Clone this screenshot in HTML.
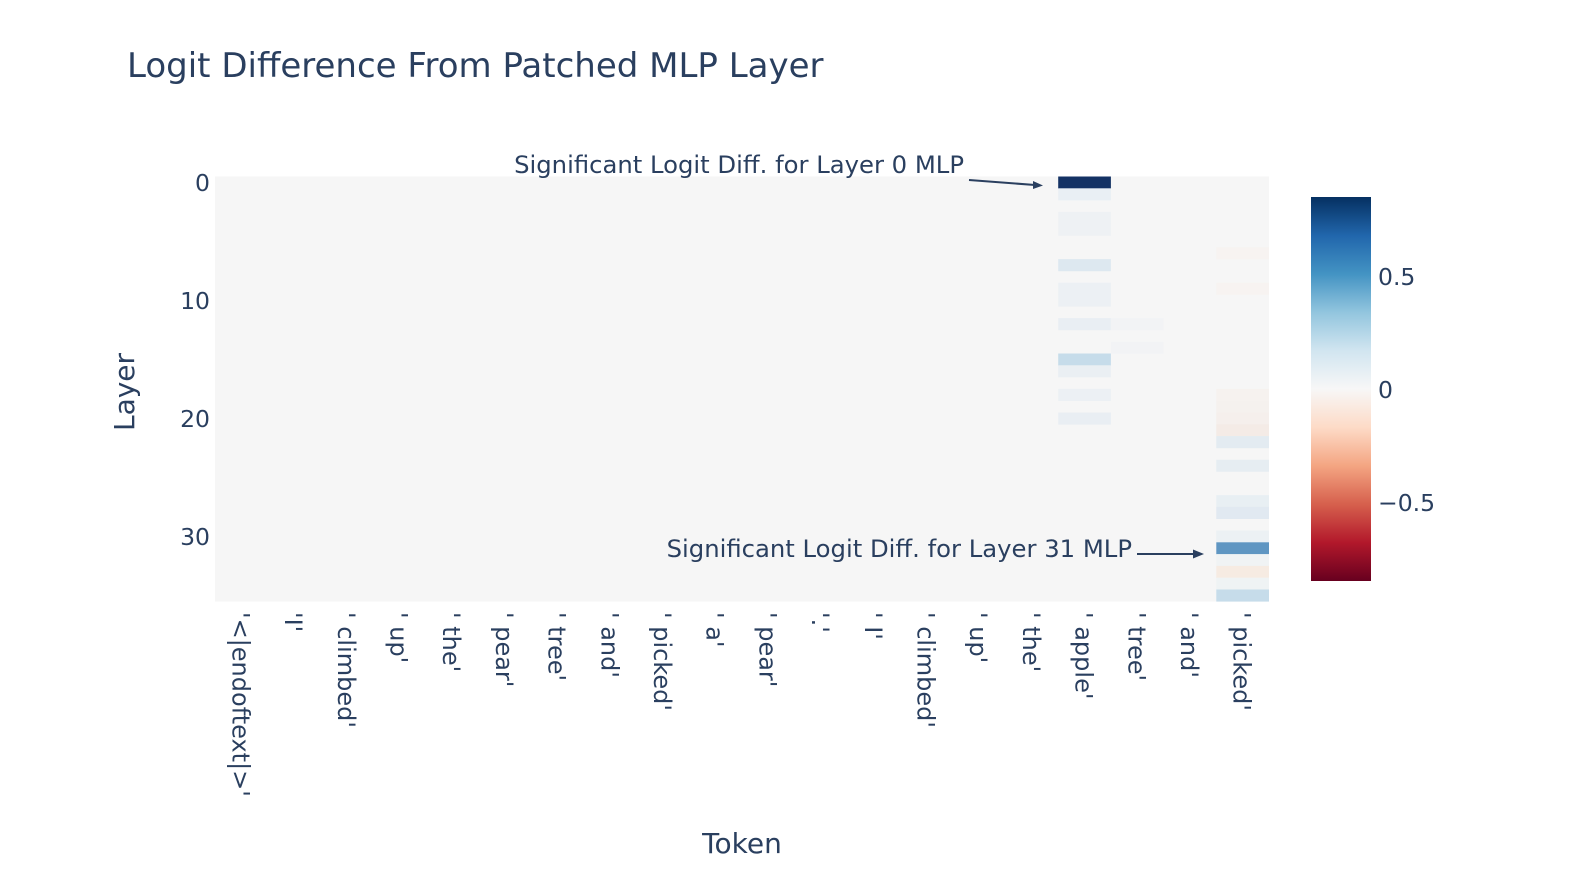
<!DOCTYPE html>
<html><head><meta charset="utf-8"><style>
html,body{margin:0;padding:0;background:#fff;}
svg{display:block;}
text{font-family:"DejaVu Sans","Liberation Sans",sans-serif;fill:#2a3f5f;}
</style></head><body>
<svg width="1588" height="896" viewBox="0 0 1588 896" xmlns="http://www.w3.org/2000/svg">
<defs>
<linearGradient id="cb" x1="0" y1="0" x2="0" y2="1">
<stop offset="0" stop-color="#053061"/><stop offset="0.1" stop-color="#2166ac"/><stop offset="0.2" stop-color="#4393c3"/><stop offset="0.3" stop-color="#92c5de"/><stop offset="0.4" stop-color="#d1e5f0"/><stop offset="0.5" stop-color="#f7f7f7"/><stop offset="0.6" stop-color="#fddbc7"/><stop offset="0.7" stop-color="#f4a582"/><stop offset="0.8" stop-color="#d6604d"/><stop offset="0.9" stop-color="#b2182b"/><stop offset="1" stop-color="#67001f"/>
</linearGradient>
</defs>
<text x="127" y="77" font-size="34">Logit Difference From Patched MLP Layer</text>
<rect x="215" y="176.5" width="1054" height="425" fill="#f6f6f6"/>
<g id="cells"></g>
<g font-size="23.5" text-anchor="end">
<text x="210" y="191">0</text><text x="210" y="309">10</text><text x="210" y="427">20</text><text x="210" y="545">30</text>
</g>
<text transform="translate(134,392) rotate(-90)" font-size="28" text-anchor="middle">Layer</text>
<text x="742" y="853" font-size="28" text-anchor="middle">Token</text>
<g id="xt" font-size="24"></g>
<text x="964" y="173" font-size="24.3" text-anchor="end">Significant Logit Diff. for Layer 0 MLP</text>
<line x1="969" y1="180" x2="1035" y2="185" stroke="#2a3f5f" stroke-width="2"/>
<polygon points="1043,185.5 1033,181 1033,189" fill="#2a3f5f"/>
<text x="1132" y="557" font-size="24.3" text-anchor="end">Significant Logit Diff. for Layer 31 MLP</text>
<line x1="1137" y1="554" x2="1195" y2="554" stroke="#2a3f5f" stroke-width="2"/>
<polygon points="1204,554 1193,549.5 1193,558.5" fill="#2a3f5f"/>
<rect x="1311" y="197" width="60" height="384" fill="url(#cb)"/>
<g font-size="23.5">
<text x="1378" y="285">0.5</text><text x="1378" y="398">0</text><text x="1378" y="511">−0.5</text>
</g>
</svg>
<script>
var top0=176.5,h=11.8,x0=215,w=52.7;
var cells={16:{0:"#143264",1:"#e9eff4",3:"#eef1f4",4:"#eef1f4",7:"#dde8f0",9:"#ecf0f4",10:"#ecf0f4",12:"#e9eef3",15:"#c6dcea",16:"#eaeff3",18:"#ecf0f4",20:"#e9eef3"},
17:{12:"#f2f3f5",14:"#f2f3f5"},
19:{6:"#f7f3f1",9:"#f7f3f1",18:"#f6f2ef",19:"#f5f1ee",20:"#f5efec",21:"#f4ebe6",22:"#e3ebf1",24:"#e6edf2",27:"#e8eff3",28:"#e1e9f1",30:"#ecf1f4",31:"#5f96c2",32:"#f0f3f4",33:"#f6ebe2",34:"#eff3f4",35:"#c6dcea"}};
var ns="http://www.w3.org/2000/svg",g=document.getElementById("cells");
for(var c in cells)for(var r in cells[c]){var e=document.createElementNS(ns,"rect");e.setAttribute("x",x0+c*w);e.setAttribute("y",top0+r*h);e.setAttribute("width",w);e.setAttribute("height",h+0.3);e.setAttribute("fill",cells[c][r]);g.appendChild(e);}
var toks=["'<|endoftext|>'","'I'","' climbed'","' up'","' the'","' pear'","' tree'","' and'","' picked'","' a'","' pear'","'.'","' I'","' climbed'","' up'","' the'","' apple'","' tree'","' and'","' picked'"];
var xt=document.getElementById("xt");
toks.forEach(function(t,i){var e=document.createElementNS(ns,"text");var cx=x0+w*(i+0.5)-9;e.setAttribute("transform","translate("+cx+",612) rotate(90)");e.setAttribute("xml:space","preserve");e.textContent=t;xt.appendChild(e);});
</script>
</body></html>
